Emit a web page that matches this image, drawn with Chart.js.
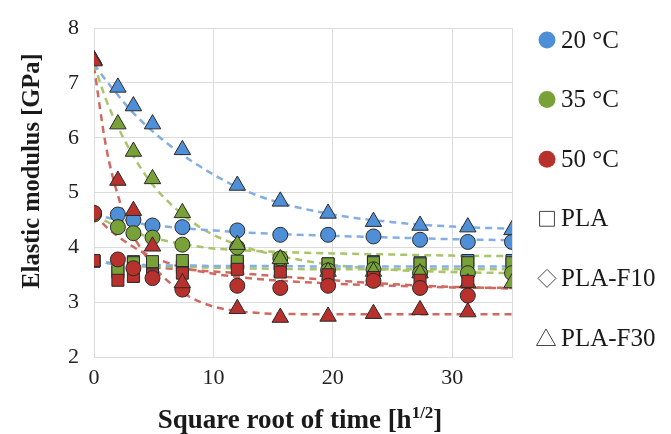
<!DOCTYPE html>
<html>
<head>
<meta charset="utf-8">
<script src="https://cdn.jsdelivr.net/npm/chart.js@4.4.1/dist/chart.umd.min.js"></script>
<style>
  html, body { margin: 0; padding: 0; background: #fff; }
  #wrap { width: 671px; height: 434px; }
</style>
</head>
<body>
<div id="wrap"><canvas id="myChart" width="671" height="434"></canvas></div>
<script>
// sqrt(time) where measurements were taken
const xs = [0, 2, 3.3, 4.9, 7.4, 12, 15.6, 19.6, 23.4, 27.3, 31.3, 35]

// measured elastic modulus [GPa]
const blueF30 = [7.42, 6.92, 6.58, 6.25, 5.78, 5.13, 4.84, 4.62, 4.47, 4.4, 4.37, 4.32]
const blueF10 = [4.62, 4.6, 4.5, 4.4, 4.37, 4.31, 4.23, 4.23, 4.2, 4.14, 4.1, 4.1]
const bluePla = [3.75, 3.55, 3.74, 3.7, 3.65, 3.72, 3.7, 3.7, 3.74, 3.72, 3.76, 3.76]
const greenF30 = [7.42, 6.25, 5.75, 5.25, 4.63, 4.05, 3.79, 3.56, 3.56, 3.53, 3.35, 3.35]
const greenF10 = [4.6, 4.37, 4.26, 4.18, 4.05, 4.0, 3.8, 3.58, 3.6, 3.53, 3.53, 3.53]
const greenPla = [3.75, 3.6, 3.72, 3.74, 3.76, 3.75, 3.7, 3.7, 3.72, 3.7, 3.72, 3.72]
const redF30 = [7.4, 5.22, 4.67, 4.02, 3.35, 2.88, 2.72, 2.74, 2.79, 2.86, 2.82, null]
const redF10 = [4.63, 3.78, 3.62, 3.44, 3.23, 3.3, 3.26, 3.3, 3.39, 3.26, 3.12, null]
const redPla = [3.76, 3.4, 3.47, 3.5, 3.53, 3.6, 3.55, 3.5, 3.45, 3.4, 3.38, null]

// fitted trend lines
const fitX = [0, 1, 2, 3, 4, 5, 6, 8, 10, 12, 15, 20, 25, 30, 35]
const blueF30Fit = [7.35, 7.05, 6.78, 6.52, 6.3, 6.1, 5.92, 5.6, 5.33, 5.1, 4.85, 4.6, 4.46, 4.38, 4.34]
const blueF10Fit = [4.6, 4.55, 4.5, 4.46, 4.43, 4.4, 4.38, 4.34, 4.31, 4.28, 4.25, 4.21, 4.18, 4.15, 4.13]
const bluePlaFit = [3.75, 3.72, 3.7, 3.69, 3.68, 3.68, 3.67, 3.67, 3.66, 3.66, 3.66, 3.65, 3.65, 3.65, 3.65]
const greenF30Fit = [7.35, 6.7, 6.2, 5.78, 5.42, 5.12, 4.88, 4.5, 4.23, 4.05, 3.87, 3.68, 3.59, 3.55, 3.53]
const greenF10Fit = [4.6, 4.48, 4.38, 4.3, 4.23, 4.17, 4.12, 4.04, 3.98, 3.95, 3.92, 3.89, 3.87, 3.85, 3.84]
const greenPlaFit = [3.75, 3.72, 3.7, 3.68, 3.67, 3.66, 3.65, 3.64, 3.63, 3.62, 3.61, 3.6, 3.6, 3.6, 3.6]
const redF30Fit = [7.3, 5.85, 4.95, 4.35, 3.95, 3.65, 3.42, 3.1, 2.92, 2.84, 2.79, 2.78, 2.78, 2.78, 2.78]
const redF10Fit = [4.6, 4.38, 4.2, 4.05, 3.92, 3.82, 3.73, 3.6, 3.52, 3.46, 3.4, 3.34, 3.3, 3.27, 3.26]
const redPlaFit = [3.75, 3.72, 3.7, 3.68, 3.66, 3.64, 3.62, 3.59, 3.56, 3.53, 3.48, 3.4, 3.33, 3.28, 3.25]

const legendLabels = ['20 °C', '35 °C', '50 °C', 'PLA', 'PLA-F10', 'PLA-F30']

const serif = "'Liberation Serif', 'Times New Roman', serif"
const BLUE = '#4f8fd8', GREEN = '#78a237', RED = '#b8312c'
const BLUE_L = '#84aee3', GREEN_L = '#a9c46a', RED_L = '#cf6a62'

const pts = (x, ys) => x.map((v, i) => ({x: v, y: ys[i]})).filter(p => p.y != null)

function marks(ys, color, style, r, order) {
    return {
        type: 'scatter', data: pts(xs, ys), order: order,
        pointStyle: style, pointRadius: r, pointHoverRadius: r,
        backgroundColor: color, borderColor: '#2a2a2a', borderWidth: 1
    }
}
function fit(ys, color) {
    return {
        type: 'line', data: pts(fitX, ys), order: 20,
        borderColor: color, borderWidth: 2.5, borderDash: [7, 5],
        pointRadius: 0, fill: false, cubicInterpolationMode: 'monotone'
    }
}

// legend at right side + axis titles, drawn by hand
const sideLegend = {
    id: 'sideLegend',
    afterDraw(chart) {
        const ctx = chart.ctx
        const colors = [BLUE, GREEN, RED]
        const shapes = ['rect', 'rectRot', 'triangle']
        const sizes = [10.5, 9, 11]
        ctx.save()
        legendLabels.forEach((txt, i) => {
            const y = 40 + i * 59.6
            if (i < 3) {
                ctx.fillStyle = colors[i]
                ctx.beginPath(); ctx.arc(547, y, 8.5, 0, Math.PI * 2); ctx.fill()
            } else {
                ctx.strokeStyle = '#444'
                ctx.fillStyle = 'rgba(0,0,0,0)'
                Chart.helpers.drawPoint(ctx, {pointStyle: shapes[i - 3], radius: sizes[i - 3], borderWidth: 1.3},
                    shapes[i - 3] === 'triangle' ? 546 : 547, shapes[i - 3] === 'triangle' ? y + 2 : y)
            }
            ctx.fillStyle = '#1a1a1a'
            ctx.font = '25px ' + serif
            ctx.textBaseline = 'middle'
            ctx.textAlign = 'left'
            ctx.fillText(txt, 561, y + 1)
        })

        // y axis title
        ctx.save()
        ctx.translate(33, 171)
        ctx.rotate(-Math.PI / 2)
        ctx.font = 'bold 24.5px ' + serif
        ctx.textAlign = 'center'
        ctx.textBaseline = 'middle'
        ctx.fillText('Elastic modulus [GPa]', 0, 0)
        ctx.restore()

        // x axis title with superscript
        const main = 'Square root of time [h'
        const sup = '1/2'
        ctx.font = 'bold 27px ' + serif
        const w1 = ctx.measureText(main).width
        const w3 = ctx.measureText(']').width
        ctx.font = 'bold 17px ' + serif
        const w2 = ctx.measureText(sup).width
        const x0 = 300 - (w1 + w2 + w3) / 2
        const yb = 428
        ctx.textBaseline = 'alphabetic'
        ctx.textAlign = 'left'
        ctx.font = 'bold 27px ' + serif
        ctx.fillText(main, x0, yb)
        ctx.font = 'bold 17px ' + serif
        ctx.fillText(sup, x0 + w1, yb - 10)
        ctx.font = 'bold 27px ' + serif
        ctx.fillText(']', x0 + w1 + w2, yb)
        ctx.restore()
    }
}

const ctx = document.getElementById('myChart').getContext('2d')
const chart = new Chart(ctx, {
    data: {
        datasets: [
            marks(redF30, RED, 'triangle', 9.5, 0),
            marks(redF10, RED, 'circle', 7.5, 1),
            marks(redPla, RED, 'rect', 8.5, 2),
            marks(greenF30, GREEN, 'triangle', 9.5, 3),
            marks(greenF10, GREEN, 'circle', 7.5, 4),
            marks(greenPla, GREEN, 'rect', 8.5, 5),
            marks(blueF30, BLUE, 'triangle', 9.5, 6),
            marks(blueF10, BLUE, 'circle', 7.5, 7),
            marks(bluePla, BLUE, 'rect', 8.5, 8),
            fit(blueF30Fit, BLUE_L), fit(blueF10Fit, BLUE_L), fit(bluePlaFit, BLUE_L),
            fit(greenF30Fit, GREEN_L), fit(greenF10Fit, GREEN_L), fit(greenPlaFit, GREEN_L),
            fit(redF30Fit, RED_L), fit(redF10Fit, RED_L), fit(redPlaFit, RED_L)
        ]
    },
    options: {
        responsive: false,
        animation: false,
        layout: { padding: { top: 15, right: 159, left: 0, bottom: 0 } },
        plugins: { legend: { display: false }, tooltip: { enabled: false } },
        scales: {
            x: {
                type: 'linear', min: 0, max: 35,
                afterFit: s => { s.height = 77 },
                grid: { color: '#dcdcdc', drawTicks: false },
                border: { color: '#dcdcdc' },
                ticks: {
                    stepSize: 10, padding: 8, color: '#222',
                    font: { family: serif, size: 22 },
                    callback: v => v === 35 ? '' : v
                }
            },
            y: {
                min: 2, max: 8,
                afterFit: s => { s.width = 94 },
                grid: { color: '#dcdcdc', drawTicks: false },
                border: { color: '#dcdcdc' },
                ticks: { stepSize: 1, padding: 15, color: '#222', font: { family: serif, size: 22 } }
            }
        }
    },
    plugins: [sideLegend]
})
</script>
</body>
</html>
